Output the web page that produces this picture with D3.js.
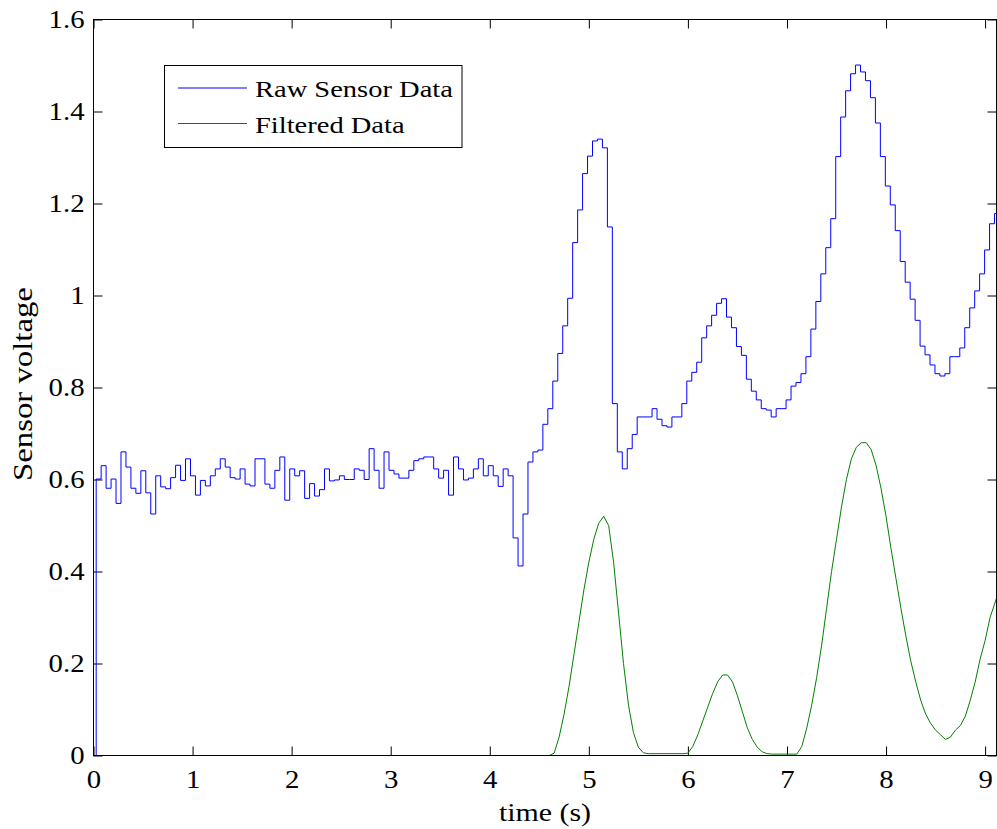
<!DOCTYPE html>
<html><head><meta charset="utf-8">
<script src="https://cdn.jsdelivr.net/npm/d3@7"></script>
<style>body{margin:0;background:#fff;overflow:hidden}</style>
</head><body>
<svg id="chart" width="997" height="829"></svg>
<script>
// ---------- data ----------
const xTicks = [0, 1, 2, 3, 4, 5, 6, 7, 8, 9];
const yTicks = [0, 0.2, 0.4, 0.6, 0.8, 1, 1.2, 1.4, 1.6];
const seriesNames = ["Raw Sensor Data", "Filtered Data"];
const xLabel = "time (s)";
const yLabel = "Sensor voltage";

// raw samples: one value per sampling interval (stairs)
const rawStart = -0.0231;
const rawStep = 0.0501;
const rawValues = [0,
  0.601,0.630,0.581,0.601,0.548,0.660,0.627,0.581,0.570,0.619,
  0.571,0.525,0.608,0.584,0.580,0.604,0.631,0.598,0.645,0.608,
  0.566,0.598,0.586,0.608,0.623,0.645,0.627,0.604,0.601,0.623,
  0.590,0.586,0.645,0.645,0.590,0.581,0.620,0.649,0.555,0.623,
  0.608,0.619,0.559,0.591,0.564,0.578,0.623,0.597,0.599,0.608,
  0.600,0.600,0.623,0.620,0.600,0.667,0.620,0.581,0.660,0.620,
  0.612,0.603,0.603,0.620,0.641,0.645,0.649,0.649,0.623,0.603,
  0.620,0.566,0.649,0.623,0.599,0.603,0.623,0.645,0.608,0.630,
  0.608,0.585,0.623,0.608,0.473,0.412,0.525,0.638,0.660,0.664,
  0.720,0.754,0.814,0.874,0.934,0.994,1.115,1.186,1.265,1.303,
  1.336,1.340,1.321,1.149,0.765,0.660,0.623,0.667,0.698,0.736,
  0.736,0.736,0.754,0.731,0.717,0.714,0.736,0.736,0.765,0.814,
  0.833,0.855,0.908,0.934,0.957,0.983,0.993,0.953,0.930,0.889,
  0.870,0.818,0.792,0.773,0.754,0.751,0.736,0.754,0.754,0.773,
  0.803,0.811,0.830,0.867,0.927,0.987,1.047,1.104,1.167,1.302,
  1.388,1.445,1.482,1.501,1.486,1.467,1.430,1.375,1.302,1.238,
  1.197,1.141,1.074,1.029,0.992,0.946,0.890,0.871,0.849,0.830,
  0.825,0.830,0.867,0.867,0.886,0.930,0.973,1.010,1.047,1.099,
  1.156,1.178];

const filteredTimes = [0,4.60,4.65,4.70,4.75,4.80,4.85,4.90,4.95,5.00,5.05,5.10,5.15,5.20,5.25,5.30,5.35,5.40,5.45,5.50,5.55,5.60,
  5.95,6.00,6.05,6.10,6.15,6.20,6.25,6.30,6.35,6.40,6.45,6.50,6.55,6.60,6.65,6.70,6.75,6.80,6.85,
  7.10,7.15,7.20,7.25,7.30,7.35,7.40,7.45,7.50,7.55,7.60,7.65,7.70,7.75,7.80,7.85,7.90,7.95,8.00,
  8.05,8.10,8.15,8.20,8.25,8.30,8.35,8.40,8.45,8.50,8.55,8.60,8.65,8.70,8.75,8.80,8.85,8.90,8.95,9.00,9.05,9.12];
const filteredValues = [0,0,0.005,0.04,0.09,0.15,0.22,0.29,0.36,0.42,0.47,0.505,0.52,0.50,0.42,0.31,0.20,0.11,0.05,0.018,0.006,0.004,
  0.004,0.005,0.02,0.045,0.075,0.105,0.135,0.16,0.175,0.175,0.16,0.13,0.095,0.06,0.035,0.018,0.008,0.004,0.003,
  0.003,0.02,0.06,0.11,0.17,0.24,0.32,0.40,0.47,0.54,0.60,0.645,0.67,0.68,0.68,0.665,0.63,0.58,0.52,
  0.45,0.385,0.32,0.26,0.205,0.16,0.12,0.09,0.07,0.055,0.045,0.035,0.04,0.055,0.065,0.085,0.12,0.16,0.21,0.25,0.30,0.345];

// ---------- drawing ----------
const plotLeft = 93.5, plotRight = 996.5, plotTop = 19.5, plotBottom = 755.5;
const svg = d3.select("#chart");
const font = "'Liberation Serif','Times New Roman',serif";
const sx = 1.15;

const x = d3.scaleLinear().domain([0, 9.115]).range([plotLeft, plotRight]);
const y = d3.scaleLinear().domain([0, 1.6]).range([plotBottom, plotTop]);

svg.append("defs").append("clipPath").attr("id", "clip")
  .append("rect").attr("x", plotLeft).attr("y", plotTop - 1).attr("width", plotRight - plotLeft).attr("height", plotBottom - plotTop + 2);

const fmt = d => d3.format("~g")(d);

function styleAxis(g, fontSize) {
  g.select(".domain").remove();
  g.selectAll(".tick line").attr("stroke", "#000").attr("stroke-width", 1);
  g.selectAll(".tick text").attr("font-family", font).attr("font-size", fontSize).attr("fill", "#000")
    .each(function() {
      const t = d3.select(this);
      const x0 = +t.attr("x") || 0;
      t.attr("x", x0 / sx).attr("transform", `scale(${sx},1)`);
    });
}

svg.append("g").attr("transform", `translate(0,${plotBottom})`)
  .call(d3.axisBottom(x).tickValues(xTicks).tickFormat(fmt).tickSizeInner(-9).tickSizeOuter(0).tickPadding(15))
  .call(g => styleAxis(g, 25));
svg.append("g").attr("transform", `translate(0,${plotTop})`)
  .call(d3.axisTop(x).tickValues(xTicks).tickFormat("").tickSizeInner(-9).tickSizeOuter(0))
  .call(g => styleAxis(g, 25));
svg.append("g").attr("transform", `translate(${plotLeft},0)`)
  .call(d3.axisLeft(y).tickValues(yTicks).tickFormat(fmt).tickSizeInner(-9).tickSizeOuter(0).tickPadding(9))
  .call(g => styleAxis(g, 25));
svg.append("g").attr("transform", `translate(${plotRight},0)`)
  .call(d3.axisRight(y).tickValues(yTicks).tickFormat("").tickSizeInner(-9).tickSizeOuter(0))
  .call(g => styleAxis(g, 25));

const rawData = rawValues.map((v, i) => ({t: rawStart + i * rawStep, v}));
rawData.push({t: rawStart + rawValues.length * rawStep, v: rawValues[rawValues.length - 1]});
const filtData = filteredTimes.map((t, i) => ({t, v: filteredValues[i]}));

const plot = svg.append("g").attr("clip-path", "url(#clip)");
plot.append("path").datum(filtData)
  .attr("fill", "none").attr("stroke", "#008000").attr("stroke-width", 1)
  .attr("d", d3.line().x(d => x(d.t)).y(d => y(d.v)));
plot.append("path").datum(rawData)
  .attr("fill", "none").attr("stroke", "#0000ff").attr("stroke-width", 1)
  .attr("d", d3.line().curve(d3.curveStepAfter).x(d => x(d.t)).y(d => y(d.v)));

svg.append("rect").attr("x", plotLeft).attr("y", plotTop).attr("width", plotRight - plotLeft).attr("height", plotBottom - plotTop)
  .attr("fill", "none").attr("stroke", "#000").attr("stroke-width", 1);

svg.append("g").attr("transform", `translate(${(plotLeft + plotRight) / 2},821)`)
  .append("text").attr("transform", `scale(${sx},1)`).attr("text-anchor", "middle")
  .attr("font-family", font).attr("font-size", 26).text(xLabel);
svg.append("g").attr("transform", `translate(32,384) rotate(-90)`)
  .append("text").attr("transform", `scale(1.17,1)`).attr("text-anchor", "middle")
  .attr("font-family", font).attr("font-size", 28).text(yLabel);

const colors = ["#0000ff", "#008000"];
const lg = svg.append("g");
lg.append("rect").attr("x", 164.5).attr("y", 65.5).attr("width", 297.5).attr("height", 82)
  .attr("fill", "#fff").attr("stroke", "#000").attr("stroke-width", 1);
seriesNames.forEach((name, i) => {
  const cy = 88 + i * 35.5;
  lg.append("line").attr("x1", 178).attr("x2", 247).attr("y1", cy).attr("y2", cy)
    .attr("stroke", colors[i]).attr("stroke-width", 1);
  lg.append("g").attr("transform", `translate(255,${cy + 9})`)
    .append("text").attr("transform", `scale(1.24,1)`)
    .attr("font-family", font).attr("font-size", 23).text(name);
});
</script>
</body></html>
